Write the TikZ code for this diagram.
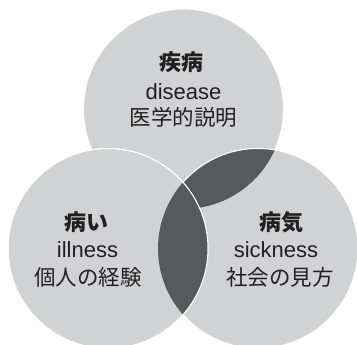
\documentclass[tikz,border=0pt]{standalone}
\usepackage{fontspec}
\setmainfont{Liberation Sans}
\newfontfamily\jp{Noto Sans CJK JP}
\definecolor{lightg}{RGB}{209,210,212}
\definecolor{darkg}{RGB}{88,89,91}
\definecolor{ink}{RGB}{35,31,32}
\begin{document}
\begin{tikzpicture}[x=1pt,y=-1pt,
  circ/.style={fill=lightg, draw=white, line width=1pt},
  rim/.style={draw=white, line width=1pt},
  head/.style={inner sep=0pt, text=ink, font=\jp\bfseries\fontsize{22}{22}\selectfont},
  en/.style={inner sep=0pt, anchor=base, text=ink, font=\fontsize{22}{22}\selectfont},
  ja/.style={inner sep=0pt, text=ink, font=\jp\fontsize{21.5}{21.5}\selectfont}]
\useasboundingbox (0,0) rectangle (357,345);
\clip (0,0) rectangle (357,345);
\coordinate (T) at (183.5,109);
\coordinate (L) at (108,248.5);
\coordinate (R) at (258,248.5);
% top circle
\path[circ] (T) circle[radius=100pt];
% right circle
\path[circ] (R) circle[radius=100pt];
\begin{scope}
  \clip (T) circle[radius=100pt];
  \fill[darkg] (R) circle[radius=100pt];
\end{scope}
\path[rim] (R) circle[radius=100pt];
% left circle
\path[circ] (L) circle[radius=100pt];
\begin{scope}
  \clip (R) circle[radius=100pt];
  \fill[darkg] (L) circle[radius=100pt];
\end{scope}
\path[rim] (L) circle[radius=100pt];
% texts
\node[head] (th) at (181,62.5) {疾病};
\node[en] (te) at (183.5,100) {disease};
\node[ja] (tj) at (183.5,117.5) {医学的説明};
\node[head] (lh) at (86,222.5) {病い};
\node[en] (le) at (87.5,258) {illness};
\node[ja] (lj) at (88,277) {個人の経験};
\node[head] (rh) at (281,222.5) {病気};
\node[en] (re) at (276,258) {sickness};
\node[ja] (rj) at (280,277) {社会の見方};
\end{tikzpicture}
\end{document}
